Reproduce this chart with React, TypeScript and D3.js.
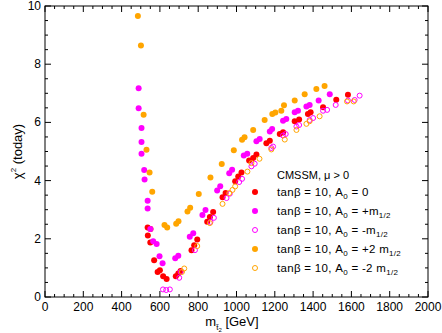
import React from "react";
import * as d3 from "d3";

// tanβ = 10, A0 = 0  (red, filled)
const redX = [536, 551, 537, 550, 570, 588, 600, 617, 635, 683, 696, 708, 765, 779, 795, 847, 861, 878, 927, 943, 993, 1009, 1026, 1066, 1087, 1104, 1156, 1174, 1226, 1243, 1304, 1327, 1373, 1387, 1452, 1521, 1582];
const redY = [2.39, 2.34, 2.11, 1.87, 1.26, 0.86, 0.92, 0.71, 0.62, 0.71, 0.81, 0.89, 1.61, 1.78, 1.98, 2.59, 2.75, 2.92, 3.43, 3.57, 3.98, 4.14, 4.28, 4.69, 4.78, 4.9, 5.28, 5.37, 5.6, 5.66, 6.04, 6.1, 6.29, 6.35, 6.52, 6.78, 6.95];

// A0 = +m1/2 (magenta, filled)
const magX = [489, 489, 504, 504, 504, 518, 520, 536, 536, 550, 565, 583, 598, 614, 680, 696, 756, 774, 822, 838, 899, 915, 962, 977, 1038, 1056, 1104, 1121, 1174, 1186, 1243, 1260, 1304, 1321, 1365, 1382, 1429, 1487];
const magY = [7.17, 6.49, 5.81, 5.33, 4.92, 4.36, 4.04, 3.31, 3.04, 2.34, 1.92, 1.82, 1.4, 1.16, 1.33, 1.42, 2.07, 2.19, 2.82, 2.99, 3.66, 3.81, 4.25, 4.37, 4.86, 4.92, 5.35, 5.43, 5.69, 5.77, 6.06, 6.12, 6.35, 6.4, 6.55, 6.6, 6.75, 6.97];

// A0 = -m1/2 (magenta, open)
const magOpenX = [616, 633, 652, 701, 708, 783, 864, 882, 948, 965, 1014, 1029, 1078, 1095, 1182, 1191, 1243, 1257, 1313, 1327, 1382, 1400, 1452, 1473, 1518, 1582, 1617, 1643];
const magOpenY = [0.26, 0.24, 0.26, 0.66, 0.86, 1.61, 2.58, 2.72, 3.4, 3.55, 3.95, 4.06, 4.49, 4.58, 5.12, 5.17, 5.55, 5.6, 5.86, 5.91, 6.08, 6.15, 6.4, 6.43, 6.6, 6.75, 6.77, 6.92];

// A0 = +2 m1/2 (orange, filled)
const orX = [485, 501, 515, 530, 546, 560, 624, 638, 685, 697, 744, 758, 803, 864, 923, 986, 1029, 1042, 1087, 1147, 1187, 1203, 1234, 1248, 1304, 1356, 1417, 1460];
const orY = [9.66, 8.64, 6.26, 5.06, 4.28, 3.62, 2.47, 2.39, 2.52, 2.6, 2.94, 3.07, 3.54, 4.11, 4.57, 5.04, 5.4, 5.49, 5.74, 6.08, 6.29, 6.34, 6.4, 6.59, 6.75, 6.97, 7.15, 7.25];

// A0 = -2 m1/2 (orange, open)
const orOpenX = [715, 727, 795, 861, 927, 962, 979, 993, 1057, 1078, 1120, 1182, 1252, 1313, 1365, 1382, 1434, 1577, 1612];
const orOpenY = [0.86, 0.98, 1.75, 2.54, 3.2, 3.57, 3.68, 3.8, 4.31, 4.6, 4.75, 5.07, 5.41, 5.74, 5.95, 6.04, 6.21, 6.72, 6.72];

const xTicks = [0, 200, 400, 600, 800, 1000, 1200, 1400, 1600, 1800, 2000];
const yTicks = [0, 2, 4, 6, 8, 10];

const W = 442, H = 333;
const left = 45, right = 428, top = 6, bottom = 297;
const font = "'Liberation Sans', Arial, sans-serif";

const series = [
  { xs: redX, ys: redY, color: "#ff0000", open: false },
  { xs: magX, ys: magY, color: "#ff00ff", open: false },
  { xs: magOpenX, ys: magOpenY, color: "#ff00ff", open: true },
  { xs: orX, ys: orY, color: "#ffa500", open: false },
  { xs: orOpenX, ys: orOpenY, color: "#ffa500", open: true },
];

const legendLabels = ["0", "+m", "-m", "+2 m", "-2 m"];

export default function App() {
  const x = d3.scaleLinear().domain([0, 2000]).range([left, right]);
  const y = d3.scaleLinear().domain([0, 10]).range([bottom, top]);
  const xMinor = d3.range(0, 2001, 50);
  const yMinor = d3.range(0, 10.01, 0.5);

  return (
    <svg width={W} height={H} style={{ position: "absolute", left: 0, top: 0, background: "#fff" }} fontFamily={font}>
      <rect x={left} y={top} width={right - left} height={bottom - top} fill="none" stroke="#000" strokeWidth={1} />
      {xMinor.map((v) => {
        const major = v % 200 === 0;
        const len = major ? 6 : 3;
        return (
          <g key={"xt" + v} stroke="#000" strokeWidth={1}>
            <line x1={x(v)} x2={x(v)} y1={bottom} y2={bottom - len} />
            <line x1={x(v)} x2={x(v)} y1={top} y2={top + len} />
          </g>
        );
      })}
      {yMinor.map((v) => {
        const major = Math.abs(v % 2) < 1e-6;
        const len = major ? 6 : 3;
        return (
          <g key={"yt" + v} stroke="#000" strokeWidth={1}>
            <line x1={left} x2={left + len} y1={y(v)} y2={y(v)} />
            <line x1={right} x2={right - len} y1={y(v)} y2={y(v)} />
          </g>
        );
      })}
      {xTicks.map((v) => (
        <text key={"xl" + v} x={x(v)} y={bottom + 14} fontSize={12} textAnchor="middle">{v}</text>
      ))}
      {yTicks.map((v) => (
        <text key={"yl" + v} x={left - 4} y={y(v) + 4} fontSize={12} textAnchor="end">{v}</text>
      ))}
      <text x={232} y={326} fontSize={13} textAnchor="middle">
        m<tspan fontSize={8} dy={4}>t̃</tspan><tspan fontSize={6} dy={2}>2</tspan><tspan dy={-6}> [GeV]</tspan>
      </text>
      <text transform={`translate(22,${(top + bottom) / 2}) rotate(-90)`} fontSize={13} textAnchor="middle">
        χ<tspan fontSize={8} dy={-6}>2</tspan><tspan dy={6}> (today)</tspan>
      </text>
      {series.map((s, i) => (
        <g key={"s" + i}>
          {s.xs.map((xv, j) => (
            <circle key={j} cx={x(xv)} cy={y(s.ys[j])} r={s.open ? 2.5 : 3}
              fill={s.open ? "none" : s.color} stroke={s.color} strokeWidth={s.open ? 1 : 0} />
          ))}
        </g>
      ))}
      <text x={277} y={179} fontSize={11}>CMSSM, μ &gt; 0</text>
      {series.map((s, i) => {
        const ly = 196 + i * 19;
        const lab = legendLabels[i];
        return (
          <g key={"lg" + i}>
            <circle cx={255} cy={ly - 4} r={s.open ? 2.5 : 3} fill={s.open ? "none" : s.color} stroke={s.color} strokeWidth={s.open ? 1 : 0} />
            <text x={277} y={ly} fontSize={11.5} letterSpacing={0.3}>
              tanβ = 10, A<tspan fontSize={8} dy={3}>0</tspan><tspan dy={-3}> = {lab}</tspan>
              {i > 0 ? <tspan fontSize={8} dy={3}>1/2</tspan> : null}
            </text>
          </g>
        );
      })}
    </svg>
  );
}
